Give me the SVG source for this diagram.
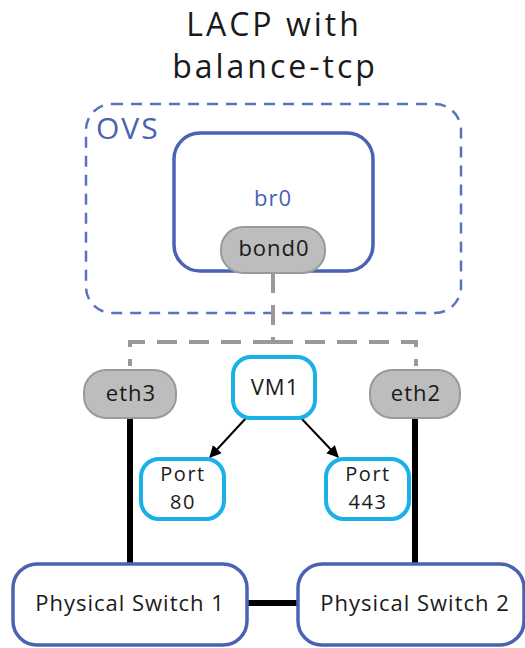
<svg xmlns="http://www.w3.org/2000/svg" width="525" height="648" viewBox="0 0 525 648">
<style>
text{font-family:"Open Sans","Noto Sans","Liberation Sans",sans-serif;text-anchor:middle;fill:#1a1a1a}
.title{font-size:32px;letter-spacing:3px}
.lbl{font-size:22px;letter-spacing:1px}
.port{font-size:20px;letter-spacing:1.5px}
.gray{fill:#bdbdbd;stroke:#9a9a9a;stroke-width:2}
.cyan{fill:#fff;stroke:#1ab0e8;stroke-width:4}
.blue{fill:#fff;stroke:#4a62b2;stroke-width:3.5}
.gdash{fill:none;stroke:#999;stroke-width:4;stroke-dasharray:20 12}
.black{stroke:#000;stroke-width:6;fill:none}
.arrow{stroke:#000;stroke-width:2;fill:none;marker-end:url(#ah)}
</style>
<defs>
<marker id="ah" viewBox="0 0 10 10" refX="9" refY="5" markerWidth="6" markerHeight="6" markerUnits="strokeWidth" orient="auto">
<path d="M0,0 L10,5 L0,10 z" fill="#000"/>
</marker>
</defs>
<rect width="525" height="648" fill="#fff"/>
<g id="title">
<text class="title" x="274" y="36">LACP with</text>
<text class="title" x="275" y="78">balance-tcp</text>
</g>
<g id="ovs">
<rect x="86" y="104" width="375" height="209" rx="26" fill="none" stroke="#5a72c0" stroke-width="2.5" stroke-dasharray="11 8"/>
<text x="96" y="139" style="font-size:30px;letter-spacing:2px;fill:#4a62b2;text-anchor:start">OVS</text>
</g>
<g id="br0">
<rect class="blue" x="174" y="133" width="199" height="138" rx="26"/>
<text x="273" y="206" style="font-size:22px;letter-spacing:1px;fill:#4a62b2">br0</text>
</g>
<g id="connectors">
<path class="gdash" d="M273,273 V342"/>
<path class="gdash" d="M273,342 H130 V366"/>
<path class="gdash" d="M273,342 H416 V366"/>
<line class="black" x1="130" y1="418" x2="130" y2="563"/>
<line class="black" x1="415" y1="418" x2="415" y2="563"/>
<line class="black" x1="247" y1="603" x2="298" y2="603"/>
<line class="arrow" x1="247" y1="417" x2="210" y2="457"/>
<line class="arrow" x1="300" y1="417" x2="338" y2="457"/>
</g>
<g id="bond0">
<rect class="gray" x="221" y="227" width="104" height="46" rx="22"/>
<text class="lbl" x="274" y="256">bond0</text>
</g>
<g id="eth3">
<rect class="gray" x="84" y="370" width="92" height="48" rx="22"/>
<text class="lbl" x="131" y="401">eth3</text>
</g>
<g id="eth2">
<rect class="gray" x="370" y="370" width="90" height="48" rx="22"/>
<text class="lbl" x="416" y="401">eth2</text>
</g>
<g id="vm1">
<rect class="cyan" x="233" y="357" width="82" height="61" rx="18"/>
<text class="lbl" x="275" y="395">VM1</text>
</g>
<g id="port80">
<rect class="cyan" x="141" y="459" width="83" height="60" rx="18"/>
<text class="port" x="183" y="481">Port</text>
<text class="port" x="183" y="509">80</text>
</g>
<g id="port443">
<rect class="cyan" x="326" y="459" width="83" height="60" rx="18"/>
<text class="port" x="368" y="481">Port</text>
<text class="port" x="368" y="509">443</text>
</g>
<g id="switch1">
<rect class="blue" x="13" y="564" width="234" height="81" rx="24"/>
<text class="lbl" x="130" y="611">Physical Switch 1</text>
</g>
<g id="switch2">
<rect class="blue" x="298" y="564" width="226" height="81" rx="24"/>
<text class="lbl" x="415" y="611">Physical Switch 2</text>
</g>
</svg>
